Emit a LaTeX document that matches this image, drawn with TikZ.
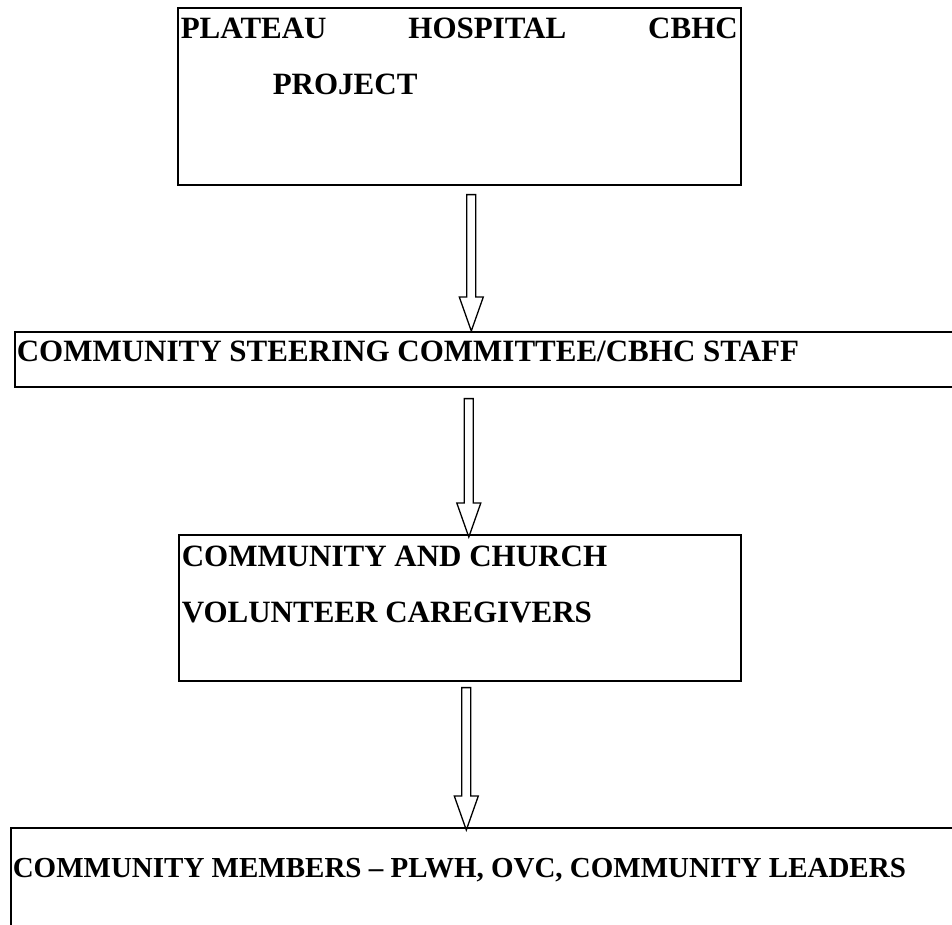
\documentclass[tikz,border=0pt]{standalone}
\usepackage{fontspec}
\setmainfont{Liberation Serif}
\usetikzlibrary{calc}

\tikzset{
  orgbox/.style={draw, line width=1.6pt, anchor=north west, inner ysep=0pt,
    font=\bfseries\fontsize{31}{56.5}\selectfont},
  hollow/.style={draw, line width=1.3pt, line join=miter},
}
\newcommand{\hollowarrow}[2]{%
  \path[hollow] let \p1=#1, \p2=#2 in
    (\x1-4.5pt,\y1) -- (\x1+4.5pt,\y1) -- (\x1+4.5pt,\y2+34pt) -- (\x1+12pt,\y2+34pt)
    -- (\x1,\y2) -- (\x1-12pt,\y2+34pt) -- (\x1-4.5pt,\y2+34pt) -- cycle;}

\begin{document}
\begin{tikzpicture}[x=1pt, y=-1pt]
    \clip (0,0) rectangle (952,924);

    % boxes
    \node[orgbox, inner xsep=3pt] (project) at (177,7)
        {\parbox[t][177pt][t]{557pt}{\vspace*{10pt}PLATEAU\hfill HOSPITAL\hfill CBHC\\\hspace*{92pt}PROJECT}};
    \node[orgbox, inner xsep=2pt] (staff) at (14,331)
        {\parbox[t][55pt][t]{944pt}{\vspace*{9pt}COMMUNITY STEERING COMMITTEE/CBHC STAFF}};
    \node[orgbox, inner xsep=3pt] (volunteers) at (178,534)
        {\parbox[t][146pt][t]{556pt}{\vspace*{11pt}COMMUNITY AND CHURCH\\VOLUNTEER CAREGIVERS}};
    \node[orgbox, inner xsep=2pt, font=\bfseries\fontsize{29}{50}\selectfont] (members) at (10,827)
        {\parbox[t][120pt][t]{944pt}{\vspace*{30pt}COMMUNITY MEMBERS – PLWH, OVC, COMMUNITY LEADERS}};

    % arrows
    \coordinate (a1) at ($(project.south)+(12,9)$);
    \coordinate (a2) at ($(staff.south -| volunteers.north)+(9,11)$);
    \coordinate (a3) at ($(volunteers.south)+(6.5,6)$);
    \hollowarrow{(a1)}{(staff.north -| a1)}
    \hollowarrow{(a2)}{($(volunteers.north -| a2)+(0,3)$)}
    \hollowarrow{(a3)}{($(members.north -| a3)+(0,3)$)}
\end{tikzpicture}
\end{document}
